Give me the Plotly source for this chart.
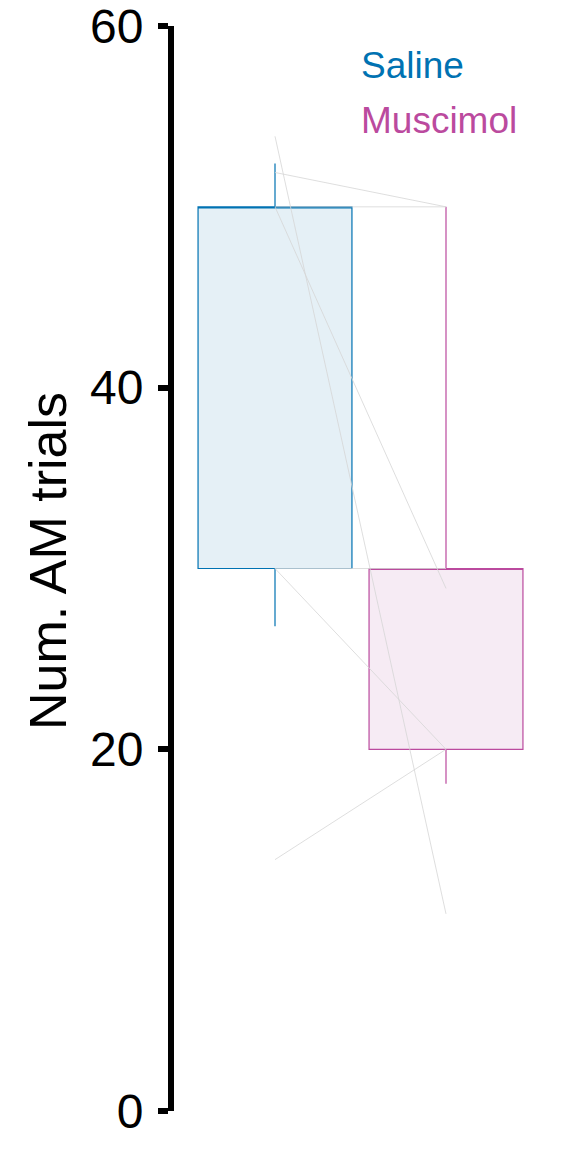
import plotly.graph_objects as go

# Data
groups = ["Saline", "Muscimol"]
group_pos = [1, 2]
q1 = [30, 20]
median = [50, 30]
q3 = [50, 30]
lowerfence = [26.8, 18.1]
upperfence = [52.4, 50]

saline_vals = [53.9, 51.9, 50, 50, 30, 30, 13.9]
muscimol_vals = [10.9, 50, 50, 28.9, 30, 20, 20]

line_colors = ["#0072B2", "#BB4A9E"]
fill_colors = ["#E5F0F6", "#F6EBF4"]

y_ticks = [0, 20, 40, 60]

fig = go.Figure()

for i, g in enumerate(groups):
    fig.add_trace(go.Box(
        x=[group_pos[i]], q1=[q1[i]], median=[median[i]], q3=[q3[i]],
        lowerfence=[lowerfence[i]], upperfence=[upperfence[i]],
        width=0.9, whiskerwidth=0, boxpoints=False,
        line=dict(color=line_colors[i], width=1.2),
        fillcolor=fill_colors[i], opacity=1, name=g, showlegend=False))

for s, m in zip(saline_vals, muscimol_vals):
    fig.add_trace(go.Scatter(x=group_pos, y=[s, m], mode="lines",
                             line=dict(color="#D6D6D6", width=0.8),
                             showlegend=False, hoverinfo="skip"))

OFF = 8  # page body margin
L, R, T, B = 166, 560, 18, 1103
x0 = 1 - (275 - OFF - L) / 171.0
x1 = x0 + (R - L) / 171.0


def px_x(p):
    return (p - OFF - L) / (R - L)


def px_y(p):
    return 1 - (p - OFF - T) / (B - T)


for i, g in enumerate(groups):
    fig.add_annotation(text=g, xref="paper", yref="paper",
                       x=px_x(359), y=px_y(65 + i * 55),
                       xanchor="left", yanchor="middle", showarrow=False,
                       font=dict(size=37, color=line_colors[i],
                                 family="Liberation Sans, Arial, sans-serif"))

fig.add_annotation(text="Num. AM trials", xref="paper", yref="paper",
                   x=px_x(48), y=px_y(561),
                   textangle=-90, xanchor="center", yanchor="middle",
                   showarrow=False,
                   font=dict(size=52, color="black",
                             family="Liberation Sans, Arial, sans-serif"))

fig.update_layout(
    width=576, height=1152,
    margin=dict(l=L, r=576 - R, t=T, b=1152 - B, autoexpand=False),
    paper_bgcolor="white", plot_bgcolor="white",
    font=dict(family="Liberation Sans, Arial, sans-serif", color="black"),
    xaxis=dict(range=[x0, x1], visible=False),
    yaxis=dict(range=[0, 60], tickvals=y_ticks, showline=True, linewidth=6,
               linecolor="black", ticks="outside", ticklen=10, tickwidth=6,
               tickcolor="black", showgrid=False, zeroline=False,
               automargin=False, tickfont=dict(size=48),
               ticklabelstandoff=5, ticklabeloverflow="allow"),
)

fig.write_html("out.html")
